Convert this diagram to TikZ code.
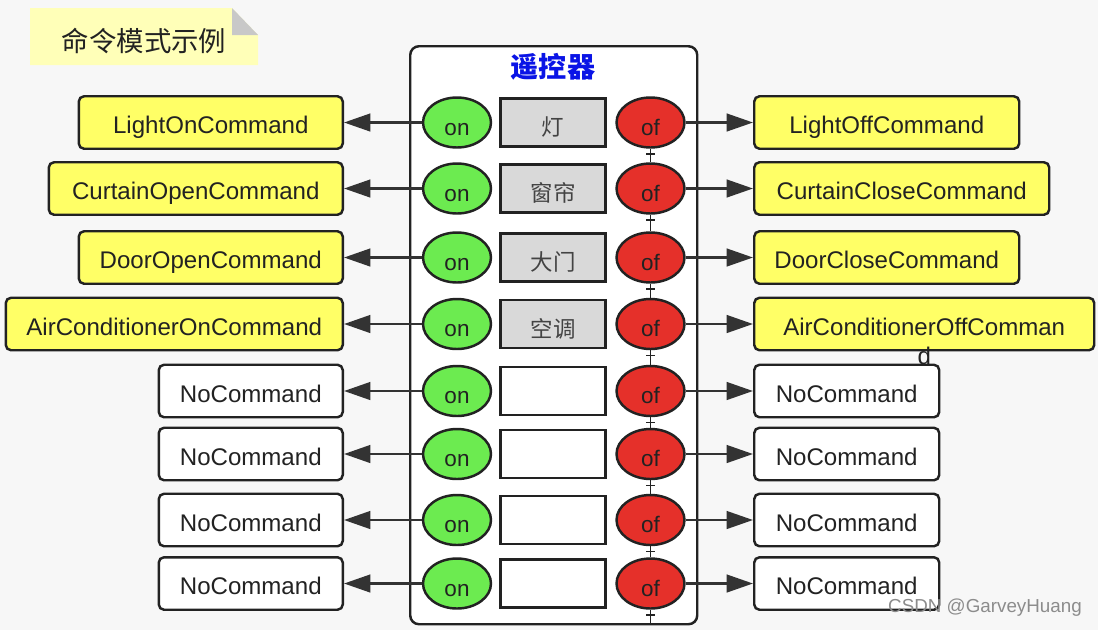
\documentclass[tikz,border=0pt]{standalone}
\usepackage{fontspec}
\setmainfont{Liberation Sans}
\newfontfamily\cjk{Noto Sans CJK SC}
\usepackage{tikz}
\usetikzlibrary{arrows.meta,positioning,shapes.geometric,decorations.markings}
\definecolor{rcPage}{HTML}{F7F7F7}
\definecolor{rcInk}{HTML}{222222}
\definecolor{rcArrow}{HTML}{333333}
\definecolor{rcYellow}{HTML}{FFFF66}
\definecolor{rcNote}{HTML}{FFFFB8}
\definecolor{rcFold}{HTML}{C8C8C8}
\definecolor{rcGreen}{HTML}{6CEB50}
\definecolor{rcRed}{HTML}{E5302A}
\definecolor{rcSlot}{HTML}{D9D9D9}
\definecolor{rcBlue}{HTML}{0A14E6}

\tikzset{
  cmdbox/.style={draw=rcInk,line width=1.4pt,rounded corners=3pt,inner sep=0pt,
                 minimum height=1.05cm,text=rcInk,text height=1.3em,text depth=0pt,
                 font=\fontsize{13.7}{16}\selectfont},
  btn/.style={ellipse,draw=rcInk,line width=1.4pt,inner sep=0pt,
              minimum width=1.36cm,minimum height=1cm,text=rcInk,
              text height=1.45em,text depth=0pt,font=\fontsize{12.8}{15}\selectfont},
  slot/.style={draw=rcInk,line width=1.4pt,inner sep=0pt,minimum width=2.1cm,
               minimum height=0.96cm,text=rcInk!85,text height=1.5em,text depth=0pt,
               font=\cjk\fontsize{12.8}{15}\selectfont},
  cmdarrow/.style={draw=rcArrow,line width=1.5pt,-{Triangle[length=15pt,width=10pt]}},
  tick/.style={draw=rcInk,line width=1.1pt,postaction={decorate},
               decoration={markings,mark=at position 3pt with {\draw[rcInk,line width=1.1pt] (0,-2.5pt) -- (0,2.5pt);}}}
}

\begin{document}
\begin{tikzpicture}[x=0.02cm,y=-0.02cm]
  \fill[rcPage] (0,0) rectangle (1098,630);
  \useasboundingbox (0,0) rectangle (1098,630);

  % note in the corner
  \fill[rcNote] (30,8) -- (232,8) -- (258,35) -- (258,65) -- (30,65) -- cycle;
  \fill[rcFold] (232,8) -- (232,35) -- (258,35) -- cycle;
  \node[text=rcInk,font=\cjk\fontsize{15.6}{18}\selectfont] (note) at (144,41) {命令模式示例};

  % the remote
  \node[draw=rcInk,fill=white,line width=1.4pt,rounded corners=5pt,anchor=north west,
        minimum width=287*0.02cm,minimum height=578*0.02cm] (remote) at (409,45) {};
  \node[text=rcBlue,font=\cjk\bfseries\fontsize{16}{19}\selectfont] (title) at (553,67) {遥控器};

  \foreach \i/\y/\lw/\ltxt/\slab/\rw/\rtxt/\fil/\sfil in {
      1/122.5/264/LightOnCommand/灯/265/LightOffCommand/rcYellow/rcSlot,
      2/188.5/294/CurtainOpenCommand/窗帘/295/CurtainCloseCommand/rcYellow/rcSlot,
      3/257.5/264/DoorOpenCommand/大门/265/DoorCloseCommand/rcYellow/rcSlot,
      4/324/337/AirConditionerOnCommand/空调/340/AirConditionerOffComman/rcYellow/rcSlot,
      5/391/184/NoCommand//185/NoCommand/white/white,
      6/454/184/NoCommand//185/NoCommand/white/white,
      7/520/184/NoCommand//185/NoCommand/white/white,
      8/583.5/184/NoCommand//185/NoCommand/white/white} {
    \node[btn,fill=rcGreen] (on\i) at (457,\y) {on};
    \node[slot,fill=\sfil] (slot\i) at (553,\y) {\slab};
    \node[btn,fill=rcRed] (of\i) at (650.5,\y) {of};
    \node[cmdbox,fill=\fil,anchor=east,minimum width=\lw*0.02cm] (L\i) at (344,\y) {\ltxt};
    \node[cmdbox,fill=\fil,anchor=west,minimum width=\rw*0.02cm] (R\i) at (753,\y) {\rtxt};
    \draw[cmdarrow] (on\i) -- (L\i);
    \draw[cmdarrow] (of\i) -- (R\i);
  }
  \node[text=rcInk,font=\fontsize{13.7}{16}\selectfont,anchor=north,inner sep=0pt]
    (wrap) at ([yshift=3pt]R4.south) {d};

  % off buttons chained downwards
  \foreach \i [evaluate=\i as \j using int(\i+1)] in {1,...,7}
    \draw[tick] (of\i.south) -- (of\j.north);
  \draw[tick] (of8.south) -- (of8.south |- remote.south);

  \node[text=black!45,font=\fontsize{10.7}{12}\selectfont] (mark) at (985,608) {CSDN @GarveyHuang};
\end{tikzpicture}
\end{document}
